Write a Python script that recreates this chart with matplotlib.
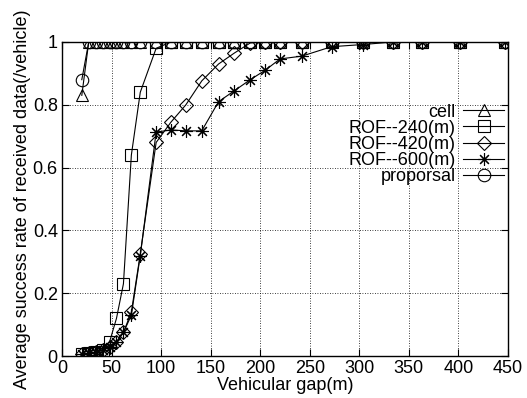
import matplotlib
matplotlib.use('Agg')
import matplotlib.pyplot as plt

plt.rcParams['font.family'] = ['Liberation Sans', 'DejaVu Sans']

# vehicular gap (m)
gap = [20, 27, 34, 41, 48, 55, 62, 70, 79, 95, 110, 125, 141, 158, 174,
       190, 205, 220, 242, 272, 304, 334, 363, 402, 447]

cell = [0.83] + [1.0] * 24
rof240 = [0.005, 0.008, 0.012, 0.02, 0.045, 0.12, 0.23, 0.64, 0.84, 0.98,
          1.0, 1.0, 1.0, 1.0, 1.0, 1.0, 1.0, 1.0, 1.0, 1.0, 1.0, 1.0, 1.0, 1.0, 1.0]
rof420 = [0.005, 0.008, 0.012, 0.018, 0.03, 0.045, 0.075, 0.14, 0.325, 0.68,
          0.745, 0.80, 0.876, 0.93, 0.965, 0.997, 1.0, 1.0, 1.0, 1.0, 1.0, 1.0, 1.0, 1.0, 1.0]
rof600 = [0.005, 0.008, 0.012, 0.018, 0.03, 0.045, 0.075, 0.13, 0.32, 0.713,
          0.72, 0.717, 0.717, 0.81, 0.845, 0.88, 0.91, 0.946, 0.955, 0.985,
          0.992, 1.0, 1.0, 1.0, 1.0]
proporsal = [0.88] + [1.0] * 24

series = [
    ('cell', cell, '^'),
    ('ROF--240(m)', rof240, 's'),
    ('ROF--420(m)', rof420, 'D'),
    ('ROF--600(m)', rof600, (8, 2, 0)),
    ('proporsal', proporsal, 'o'),
]

fig = plt.figure(figsize=(5.27, 3.98), dpi=100)
ax = fig.add_axes([0.1176, 0.1055, 0.8464, 0.789])

for label, ys, mk in series:
    ms = 7 if mk == 'D' else 9
    ax.plot(gap, ys, color='black', lw=0.8, marker=mk, ms=ms,
            mfc='none', mec='black', mew=0.8, label=label)

ax.set_xlim(0, 450)
ax.set_ylim(0, 1)
ax.set_xticks(range(0, 451, 50))
ax.set_yticks([0, 0.2, 0.4, 0.6, 0.8, 1])
ax.set_yticklabels(['0', '0.2', '0.4', '0.6', '0.8', '1'])
ax.tick_params(direction='in', top=True, right=True, length=5, width=0.8,
               labelsize=13, pad=3)
ax.grid(True, linestyle=(0, (1, 2)), color='black', lw=0.6)
for s in ax.spines.values():
    s.set_linewidth(1.0)

ax.set_xlabel('Vehicular gap(m)', fontsize=13, labelpad=0)
ax.set_ylabel('Average success rate of received data(/vehicle)', fontsize=13,
              labelpad=1)

leg = ax.legend(loc='upper right', bbox_to_anchor=(1.0, 0.815), frameon=False,
                markerfirst=False, fontsize=13, handlelength=2.3,
                handletextpad=0.4, labelspacing=-0.05, borderaxespad=0.0,
                borderpad=0.2)

fig.savefig('out.png', dpi=100)
